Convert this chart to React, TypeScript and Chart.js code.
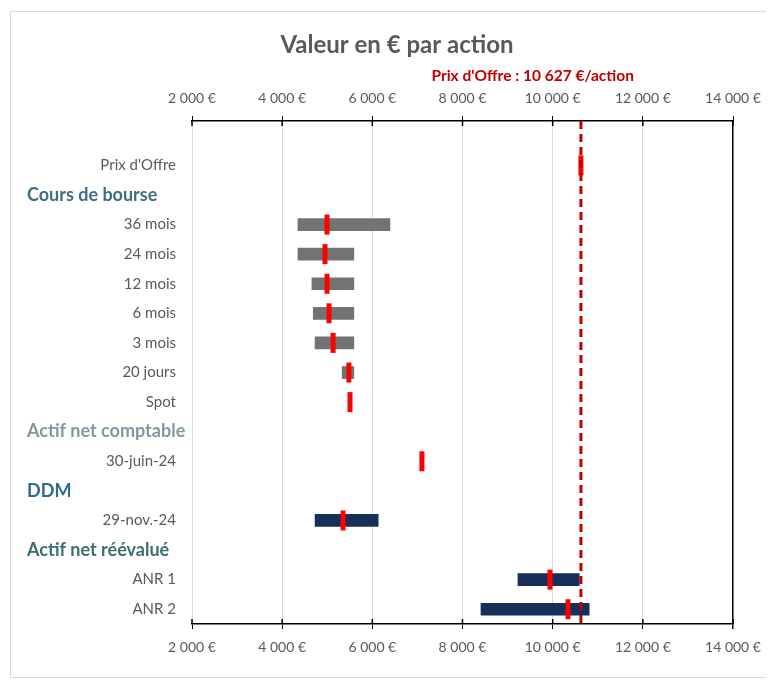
import React, { useEffect, useRef } from "react";
import { Chart, registerables } from "chart.js";

Chart.register(...registerables);

const categories = [
  "",
  "Prix d'Offre",
  "Cours de bourse",
  "36 mois",
  "24 mois",
  "12 mois",
  "6 mois",
  "3 mois",
  "20 jours",
  "Spot",
  "Actif net comptable",
  "30-juin-24",
  "DDM",
  "29-nov.-24",
  "Actif net réévalué",
  "ANR 1",
  "ANR 2",
];

const headerRows = ["Cours de bourse", "Actif net comptable", "DDM", "Actif net réévalué"];
const headerColors = ["#3f6e80", "#7f9a9e", "#2f6a8f", "#3a6e72"];

const rangeLow = [null, null, null, 4350, 4350, 4660, 4690, 4730, 5330, null, null, null, null, 4730, null, 9230, 8410];
const rangeHigh = [null, null, null, 6390, 5590, 5590, 5590, 5590, 5590, null, null, null, null, 6130, null, 10590, 10810];
const markerValues = [null, 10627, null, 4995, 4950, 4995, 5040, 5130, 5480, 5505, null, 7100, null, 5350, null, 9940, 10340];
const barGroup = ["", "", "", "bourse", "bourse", "bourse", "bourse", "bourse", "bourse", "bourse", "", "", "", "ddm", "", "anr", "anr"];

const offerPrice = 10627;
const offerLabel = "Prix d'Offre : 10 627 €/action";
const chartTitle = "Valeur en € par action";

const tickValues = [2000, 4000, 6000, 8000, 10000, 12000, 14000];
const tickLabels = ["2 000 €", "4 000 €", "6 000 €", "8 000 €", "10 000 €", "12 000 €", "14 000 €"];

const FONT = "Lato, 'Open Sans', sans-serif";

export default function App() {
  const canvasRef = useRef<HTMLCanvasElement | null>(null);

  useEffect(() => {
    const canvas = canvasRef.current;
    if (!canvas) return;

    const overlay = {
      id: "overlay",
      afterDatasetsDraw(chart: any) {
        const { ctx, chartArea, scales } = chart;
        const px = scales.x.getPixelForValue(offerPrice);
        ctx.save();
        ctx.strokeStyle = "#c00000";
        ctx.lineWidth = 3;
        ctx.setLineDash([8, 5]);
        ctx.beginPath();
        ctx.moveTo(px, chartArea.top);
        ctx.lineTo(px, chartArea.bottom);
        ctx.stroke();
        ctx.restore();
      },
      afterDraw(chart: any) {
        const { ctx, scales, chartArea } = chart;
        ctx.save();
        // inner halves of the crossing tick marks
        ctx.strokeStyle = "#000000";
        ctx.lineWidth = 1.5;
        tickValues.forEach((v) => {
          const x = scales.x.getPixelForValue(v);
          ctx.beginPath();
          ctx.moveTo(x, chartArea.top);
          ctx.lineTo(x, chartArea.top + 5);
          ctx.moveTo(x, chartArea.bottom);
          ctx.lineTo(x, chartArea.bottom - 5);
          ctx.stroke();
        });
        // title
        ctx.fillStyle = "#595959";
        ctx.font = `bold 24px ${FONT}`;
        ctx.textAlign = "center";
        ctx.textBaseline = "middle";
        ctx.fillText(chartTitle, 386, 33);
        // offer label
        const px = scales.x.getPixelForValue(offerPrice);
        ctx.fillStyle = "#c00000";
        ctx.font = `bold 15.5px ${FONT}`;
        ctx.textAlign = "right";
        ctx.fillText(offerLabel, px + 53, 64);
        // section headers
        ctx.textAlign = "left";
        ctx.font = `bold 18px ${FONT}`;
        headerRows.forEach((h, i) => {
          const idx = categories.indexOf(h);
          const y = scales.y.getPixelForValue(idx);
          ctx.fillStyle = headerColors[i];
          ctx.fillText(h, 16, y);
        });
        ctx.restore();
      },
    };

    const barData = rangeLow.map((lo, i) => (lo === null || rangeHigh[i] === null ? null : [lo, rangeHigh[i]]));
    const barColors = barGroup.map((g) => (g === "bourse" ? "#737373" : "#172f5a"));

    const fitX = (scale: any) => {
      scale.height = 40;
      scale.paddingLeft = 0;
      scale.paddingRight = 0;
    };

    const chart = new Chart(canvas, {
      type: "bar",
      data: {
        labels: categories,
        datasets: [
          {
            type: "line",
            label: "Valeur",
            data: markerValues as any,
            indexAxis: "y",
            showLine: false,
            pointStyle: "line",
            rotation: 90,
            pointRadius: 10,
            pointBorderWidth: 5,
            pointBorderColor: "#ff0000",
            pointBackgroundColor: "#ff0000",
            order: 0,
          } as any,
          {
            type: "bar",
            label: "Fourchette",
            data: barData as any,
            backgroundColor: barColors,
            barThickness: 12,
            order: 1,
          },
        ],
      },
      options: {
        indexAxis: "y",
        animation: false,
        responsive: true,
        maintainAspectRatio: false,
        layout: { padding: { top: 69, bottom: 13, left: 0, right: 35 } },
        plugins: {
          legend: { display: false },
          tooltip: { enabled: false },
          title: { display: false },
        },
        scales: {
          x: {
            type: "linear",
            position: "bottom",
            min: 2000,
            max: 14000,
            afterBuildTicks: (scale: any) => {
              scale.ticks = tickValues.map((v) => ({ value: v }));
            },
            afterFit: fitX,
            ticks: {
              padding: 10,
              color: "#595959",
              font: { family: FONT, size: 14 },
              maxRotation: 0,
              callback: (v: any, i: number) => tickLabels[i],
            },
            grid: {
              color: (c: any) => (c.tick && c.tick.value === 14000 ? "#000000" : "#d9d9d9"),
              lineWidth: (c: any) => (c.tick && c.tick.value === 14000 ? 1.5 : 1),
              tickColor: "#000000",
              tickLength: 5,
            },
            border: { display: true, color: "#000000", width: 1.5 },
          },
          x2: {
            type: "linear",
            position: "top",
            min: 2000,
            max: 14000,
            afterBuildTicks: (scale: any) => {
              scale.ticks = tickValues.map((v) => ({ value: v }));
            },
            afterFit: fitX,
            ticks: {
              padding: 9,
              color: "#595959",
              font: { family: FONT, size: 14 },
              maxRotation: 0,
              callback: (v: any, i: number) => tickLabels[i],
            },
            grid: {
              drawOnChartArea: false,
              color: "#000000",
              tickLength: 5,
            },
            border: { display: true, color: "#000000", width: 1.5 },
          },
          y: {
            type: "category",
            labels: categories,
            offset: true,
            afterFit: (scale: any) => {
              scale.width = 181;
            },
            ticks: {
              padding: 16,
              color: "#595959",
              font: { family: FONT, size: 15 },
              autoSkip: false,
              callback: (v: any, i: number) => (headerRows.includes(categories[i]) ? "" : categories[i]),
            },
            grid: { display: false, drawTicks: false },
            border: { display: false },
          },
        },
      } as any,
      plugins: [overlay],
    });

    return () => chart.destroy();
  }, []);

  return (
    <div style={{ padding: "3px 0 0 2px" }}>
      <div
        style={{
          position: "relative",
          width: 757,
          height: 665,
          border: "1px solid #d9d9d9",
          background: "#ffffff",
        }}
      >
        <canvas ref={canvasRef} />
      </div>
    </div>
  );
}
